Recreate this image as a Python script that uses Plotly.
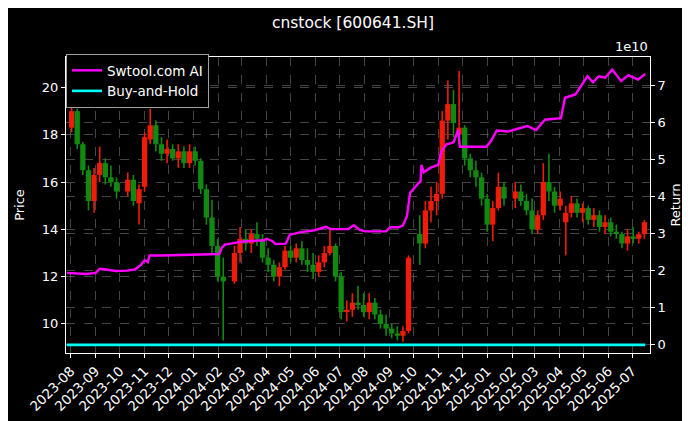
import plotly.graph_objects as go

# ---------------- data ----------------
week_dates = ["2023-08-02","2023-08-09","2023-08-16","2023-08-23","2023-08-30","2023-09-06","2023-09-13","2023-09-20","2023-09-27",
    "2023-10-11","2023-10-18","2023-10-25","2023-11-01","2023-11-08","2023-11-15","2023-11-22","2023-11-29","2023-12-06","2023-12-13",
    "2023-12-20","2023-12-27","2024-01-03","2024-01-10","2024-01-17","2024-01-24","2024-01-31","2024-02-07","2024-02-21","2024-02-28",
    "2024-03-06","2024-03-13","2024-03-20","2024-03-27","2024-04-03","2024-04-10","2024-04-17","2024-04-24","2024-05-01","2024-05-08",
    "2024-05-15","2024-05-22","2024-05-29","2024-06-05","2024-06-12","2024-06-19","2024-06-26","2024-07-03","2024-07-10","2024-07-17",
    "2024-07-24","2024-07-31","2024-08-07","2024-08-14","2024-08-21","2024-08-28","2024-09-04","2024-09-11","2024-09-18","2024-09-25",
    "2024-10-09","2024-10-16","2024-10-23","2024-10-30","2024-11-06","2024-11-13","2024-11-20","2024-11-27","2024-12-04","2024-12-11",
    "2024-12-18","2024-12-25","2025-01-01","2025-01-08","2025-01-15","2025-01-22","2025-02-05","2025-02-12","2025-02-19","2025-02-26",
    "2025-03-05","2025-03-12","2025-03-19","2025-03-26","2025-04-02","2025-04-09","2025-04-16","2025-04-23","2025-04-30","2025-05-07",
    "2025-05-14","2025-05-21","2025-05-28","2025-06-04","2025-06-11","2025-06-18","2025-06-25","2025-07-02","2025-07-09","2025-07-16"]

opens = [18.3,19.0,17.6,16.5,15.2,16.3,16.8,16.2,16.0,15.6,16.1,15.1,15.8,17.8,18.4,17.6,17.2,17.4,17.0,17.3,16.8,17.3,16.9,15.7,14.5,
    13.3,12.0,11.8,13.0,13.6,13.4,13.8,13.6,12.8,12.5,12.0,12.4,13.1,12.8,13.2,12.7,12.5,12.2,12.6,13.0,13.3,12.0,10.5,10.6,10.9,
    10.8,10.5,10.9,10.4,10.0,9.8,9.6,9.5,9.7,13.8,13.4,14.8,15.2,15.5,18.6,19.3,18.0,18.3,17.0,16.5,16.2,15.3,14.2,14.9,15.8,
    15.3,15.6,15.2,14.8,14.0,14.6,16.0,15.6,15.0,14.3,14.7,15.1,14.7,14.9,14.4,14.6,14.1,14.3,13.9,13.8,13.4,13.7,13.6,13.8]
highs = [19.4,19.1,17.7,16.7,16.6,17.5,17.0,16.7,16.2,16.4,16.3,15.9,18.1,19.1,18.6,17.9,17.8,17.6,17.6,17.5,17.6,17.5,17.0,15.9,15.25,
    13.6,12.8,13.3,14.1,14.0,14.0,14.3,13.8,13.2,12.7,12.6,13.3,13.3,13.4,13.5,13.2,13.0,12.9,13.3,14.0,13.4,12.2,11.0,11.3,11.6,
    11.3,11.3,11.1,10.6,10.4,10.0,9.9,9.9,12.9,14.6,15.2,15.8,16.0,19.0,20.3,19.9,20.7,18.4,17.2,16.9,16.4,15.5,15.2,16.4,16.0,
    16.0,15.9,15.5,15.3,14.8,16.8,17.2,15.8,15.6,15.0,15.4,15.3,15.1,15.0,14.9,14.8,14.6,14.5,14.2,13.9,14.0,14.1,13.9,14.4]
lows = [18.1,17.4,16.3,14.8,14.7,16.0,15.9,15.8,15.3,15.4,15.0,14.2,15.6,17.6,17.3,16.9,16.8,16.9,16.6,16.6,16.6,16.7,15.5,14.2,13.0,
    11.8,9.3,11.7,12.6,13.1,13.0,13.3,12.6,12.2,11.8,11.6,12.3,12.6,12.6,12.5,12.2,11.9,12.0,12.4,12.9,11.8,10.2,10.1,10.3,10.6,
    10.3,10.2,10.2,9.8,9.5,9.4,9.3,9.25,9.6,12.5,13.2,14.3,14.6,15.3,17.8,17.9,17.6,16.7,16.2,15.8,15.0,13.9,13.5,14.8,15.0,
    14.9,15.0,14.6,13.8,13.8,14.4,15.2,14.7,14.8,12.9,14.5,14.5,14.3,14.2,14.1,13.9,13.8,13.7,13.6,13.2,13.1,13.4,13.4,13.6]
closes = [19.0,17.6,16.5,15.2,16.3,16.8,16.2,16.0,15.6,16.1,15.2,15.7,17.9,18.4,17.6,17.2,17.4,17.0,17.3,16.8,17.3,16.9,15.7,14.5,13.3,
    12.0,11.8,13.0,13.6,13.4,13.8,13.6,12.8,12.5,12.0,12.4,13.1,12.8,13.2,12.7,12.5,12.2,12.6,13.0,13.3,12.0,10.5,10.6,10.9,10.8,
    10.5,10.9,10.4,10.0,9.8,9.6,9.5,9.7,12.8,13.4,14.8,15.2,15.5,18.6,19.3,18.5,18.3,17.0,16.5,16.2,15.3,14.2,14.9,15.8,15.3,
    15.6,15.2,14.8,14.0,14.6,16.0,15.6,15.0,15.3,14.7,15.1,14.7,14.9,14.4,14.6,14.1,14.3,13.9,13.8,13.4,13.7,13.6,13.8,14.3]

# Strategy return, in units of 1e10
ai_dates = ["2023-07-27","2023-08-07","2023-08-20","2023-09-01","2023-09-06","2023-09-14","2023-09-26","2023-10-10","2023-10-20",
    "2023-10-27","2023-11-01","2023-11-05","2023-11-07","2023-11-23","2023-12-28","2024-01-25","2024-02-02","2024-02-05","2024-02-09",
    "2024-02-22","2024-02-29","2024-03-13","2024-03-29","2024-04-01","2024-04-08","2024-04-12","2024-04-22","2024-04-25","2024-04-30",
    "2024-05-14","2024-05-31","2024-06-14","2024-06-20","2024-07-12","2024-07-17","2024-07-19","2024-07-26","2024-08-02","2024-08-28",
    "2024-09-02","2024-09-13","2024-09-18","2024-09-23","2024-09-27","2024-10-08","2024-10-10","2024-10-11","2024-10-14","2024-10-22",
    "2024-11-01","2024-11-05","2024-11-11","2024-11-20","2024-11-26","2024-11-28","2024-12-31","2025-01-06","2025-01-13","2025-01-27",
    "2025-02-10","2025-02-20","2025-03-03","2025-03-10","2025-03-14","2025-04-03","2025-04-08","2025-04-21","2025-04-28","2025-05-06",
    "2025-05-13","2025-05-20","2025-05-28","2025-06-06","2025-06-17","2025-06-26","2025-07-08","2025-07-17"]
ai_values = [1.94,1.93,1.91,1.94,2.05,2.03,1.99,2.00,2.03,
    2.15,2.28,2.23,2.41,2.41,2.43,2.43,2.45,2.61,2.70,
    2.75,2.78,2.80,2.82,2.86,2.80,2.72,2.72,2.73,2.97,
    3.04,3.09,3.18,3.12,3.12,3.20,3.22,3.10,3.06,3.06,
    3.17,3.17,3.22,3.47,4.10,4.37,4.40,4.85,4.65,4.77,
    4.85,5.22,5.40,5.46,5.80,5.34,5.34,5.50,5.78,5.75,
    5.83,5.90,5.79,5.98,6.07,6.11,6.66,6.75,6.97,7.24,
    7.08,7.24,7.20,7.42,7.11,7.27,7.15,7.30]

bh_dates = ["2023-07-27", "2025-07-17"]
bh_values = [0.0, 0.0]

month_ticks = ["2023-08","2023-09","2023-10","2023-11","2023-12","2024-01","2024-02","2024-03","2024-04","2024-05","2024-06",
    "2024-07","2024-08","2024-09","2024-10","2024-11","2024-12","2025-01","2025-02","2025-03","2025-04","2025-05","2025-06","2025-07"]
price_ticks = [10, 12, 14, 16, 18, 20]
return_ticks = [0, 1, 2, 3, 4, 5, 6, 7]

# ---------------- figure ----------------
FONT = "DejaVu Sans"
GRID = "rgba(150,150,150,0.45)"
UP, DOWN = "#f01c0a", "#118a11"
BODY_MS = 6.6 * 24 * 3600 * 1000

fig = go.Figure()
# candles: wick segments (one trace per colour) + bodies as bars
for want_up, col in ((True, UP), (False, DOWN)):
    wx, wy = [], []
    for d, o, h, l, c in zip(week_dates, opens, highs, lows, closes):
        if (c >= o) == want_up:
            wx += [d, d, None]
            wy += [l, h, None]
    fig.add_trace(go.Scatter(x=wx, y=wy, mode="lines", line=dict(color=col, width=1.6),
                             showlegend=False, hoverinfo="skip", yaxis="y"))
fig.add_trace(go.Bar(
    x=week_dates,
    base=[min(o, c) for o, c in zip(opens, closes)],
    y=[max(abs(c - o), 0.08) for o, c in zip(opens, closes)],
    width=BODY_MS,
    marker=dict(color=[UP if c >= o else DOWN for o, c in zip(opens, closes)], line=dict(width=0)),
    showlegend=False, hoverinfo="skip", yaxis="y"))

fig.add_trace(go.Scatter(x=ai_dates, y=ai_values, mode="lines", name="Swtool.com AI",
                         line=dict(color="#ff00ff", width=2.4), yaxis="y2"))
fig.add_trace(go.Scatter(x=bh_dates, y=bh_values, mode="lines", name="Buy-and-Hold",
                         line=dict(color="#00ffff", width=2.6), yaxis="y2"))

axis_common = dict(showline=True, linecolor="white", linewidth=1, ticks="outside", ticklen=4,
                   tickcolor="white", tickfont=dict(color="white", size=13, family=FONT),
                   showgrid=True, gridcolor=GRID, griddash="dash", gridwidth=0.6, zeroline=False)

fig.update_layout(
    width=690, height=421,
    paper_bgcolor="black", plot_bgcolor="black",
    margin=dict(l=58, r=48, t=49, b=76),
    barmode="overlay",
    font=dict(family=FONT, color="white", size=13),
    title=dict(text="cnstock [600641.SH]", x=0.5, xanchor="center", y=1 - 15 / 421, yanchor="middle",
               font=dict(size=15.5, color="white", family=FONT)),
    xaxis=dict(type="date", range=["2023-07-26", "2025-07-23"], tickvals=[m + "-01" for m in month_ticks],
               ticktext=month_ticks, tickangle=-45, mirror=True,
               automargin=False, **{**axis_common, "tickfont": dict(color="white", size=13.5, family=FONT)}),
    yaxis=dict(range=[8.77, 21.29], tickvals=price_ticks, ticktext=[str(v) for v in price_ticks], mirror=True,
               title=dict(text="Price", font=dict(size=13, color="white"), standoff=14), automargin=False,
               **axis_common),
    yaxis2=dict(overlaying="y", side="right", range=[-0.22, 7.76], tickvals=return_ticks,
                ticktext=[str(v) for v in return_ticks],
                title=dict(text="Return", font=dict(size=13, color="white"), standoff=6), automargin=False,
                **axis_common),
    legend=dict(x=0.0, y=1.01, xanchor="left", yanchor="top", bgcolor="black",
                bordercolor="rgba(200,200,200,0.8)", borderwidth=1, font=dict(size=13.5, color="white", family=FONT),
                tracegroupgap=0, itemwidth=30),
    annotations=[dict(text="1e10", xref="paper", yref="paper", x=1, y=1, xanchor="right", yanchor="bottom",
                      yshift=1, showarrow=False, font=dict(size=13, color="white", family=FONT))],
)

fig.write_html("out.html")
